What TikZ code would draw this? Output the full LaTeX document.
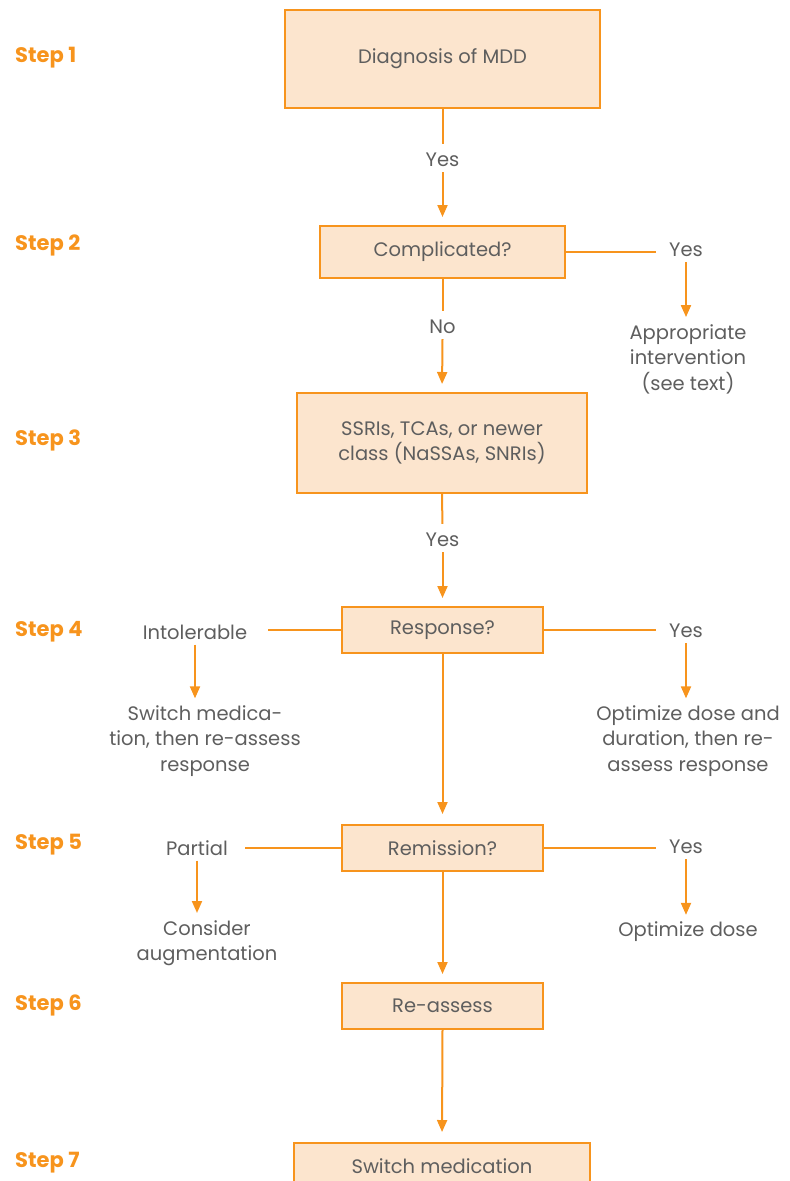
\documentclass[tikz,border=0pt]{standalone}
\usepackage{fontspec}
\setmainfont{Poppins}
\usetikzlibrary{arrows.meta}
\definecolor{org}{HTML}{F7941D}
\definecolor{peach}{HTML}{FCE5CE}
\definecolor{txt}{HTML}{5E5E5E}
\tikzset{
  box/.style={draw=org, fill=peach, line width=2pt, text=txt, font=\fontsize{19.5}{25.5}\selectfont, align=center, inner sep=0pt},
  lbl/.style={text=txt, font=\fontsize{19.5}{25.5}\selectfont, align=center, inner sep=5pt},
  steplbl/.style={text=org, font=\bfseries\fontsize{21}{24}\selectfont, anchor=west, inner sep=0pt},
  conn/.style={draw=org, line width=2pt},
  arr/.style={conn, -{Triangle[width=10pt,length=12pt]}},
}
\begin{document}
\begin{tikzpicture}[x=1pt,y=-1pt]
\useasboundingbox (0,0) rectangle (790,1181);
\clip (0,0) rectangle (790,1181);
% step labels
\node[steplbl] (s1) at (15,58) {Step 1};
\node[steplbl] (s2) at (15,245) {Step 2};
\node[steplbl] (s3) at (15,440) {Step 3};
\node[steplbl] (s4) at (15,632) {Step 4};
\node[steplbl] (s5) at (15,845) {Step 5};
\node[steplbl] (s6) at (15,1005) {Step 6};
\node[steplbl] (s7) at (15,1163) {Step 7};
% boxes
\node[box, minimum width=315, minimum height=98] (b1) at (442.5,59) {Diagnosis of MDD};
\node[box, minimum width=245, minimum height=52] (b2) at (442.5,252) {Complicated?};
\node[box, minimum width=290, minimum height=100] (b3) at (442,443) {SSRIs, TCAs, or newer\\class (NaSSAs, SNRIs)};
\node[box, minimum width=201, minimum height=46] (b4) at (442.5,630) {Response?};
\node[box, minimum width=201, minimum height=46] (b5) at (442.5,848) {Remission?};
\node[box, minimum width=201, minimum height=46] (b6) at (442.5,1006) {Re-assess};
\node[box, minimum width=296, minimum height=46] (b7) at (442,1166) {Switch medication};
% labels on main line
\node[lbl] (y1) at (442.5,160) {Yes};
\node[lbl] (n2) at (442.5,327) {No};
\node[lbl] (y3) at (442.5,540) {Yes};
% right column
\node[lbl] (y2r) at (686,250) {Yes};
\node[lbl] (a2r) at (688,359) {Appropriate\\intervention\\(see text)};
\node[lbl] (y4r) at (686,631) {Yes};
\node[lbl] (a4r) at (688,741) {Optimize dose and\\duration, then re-\\assess response};
\node[lbl] (y5r) at (686,847) {Yes};
\node[lbl] (a5r) at (688,932) {Optimize dose};
% left column
\node[lbl] (i4l) at (195,632) {Intolerable};
\node[lbl] (a4l) at (205,741) {Switch medica-\\tion, then re-assess\\response};
\node[lbl] (p5l) at (197,848) {Partial};
\node[lbl] (a5l) at (207,943) {Consider\\augmentation};
% connectors main
\draw[conn, shorten >=4pt] (b1.south) -- (y1.north);
\draw[arr, shorten >=8pt] (y1.south) -- (b2.north);
\draw[conn, shorten >=4pt] (b2.south) -- (n2.north);
\draw[arr, shorten >=8pt] (n2.south) -- (b3.north);
\draw[conn, shorten >=4pt] (b3.south) -- (y3.north);
\draw[arr, shorten >=8pt] (y3.south) -- (b4.north);
\draw[arr, shorten >=10pt] (b4.south) -- (b5.north);
\draw[arr, shorten >=8pt] (b5.south) -- (b6.north);
\draw[arr, shorten >=10pt] (b6.south) -- (b7.north);
% right branches
\draw[conn, shorten >=8pt] (b2.east) -- (b2.east -| y2r.west);
\draw[arr, shorten >=2pt] (y2r.south) -- (y2r.south |- a2r.north);
\draw[conn, shorten >=8pt] (b4.east) -- (b4.east -| y4r.west);
\draw[arr, shorten >=2pt] (y4r.south) -- (y4r.south |- a4r.north);
\draw[conn, shorten >=8pt] (b5.east) -- (b5.east -| y5r.west);
\draw[arr, shorten >=2pt] (y5r.south) -- (y5r.south |- a5r.north);
% left branches
\draw[conn, shorten >=16pt] (b4.west) -- (b4.west -| i4l.east);
\draw[arr, shorten >=2pt] (i4l.south) -- (i4l.south |- a4l.north);
\draw[conn, shorten >=12pt] (b5.west) -- (b5.west -| p5l.east);
\draw[arr, shorten >=2pt] (p5l.south) -- (p5l.south |- a5l.north);
\end{tikzpicture}
\end{document}
